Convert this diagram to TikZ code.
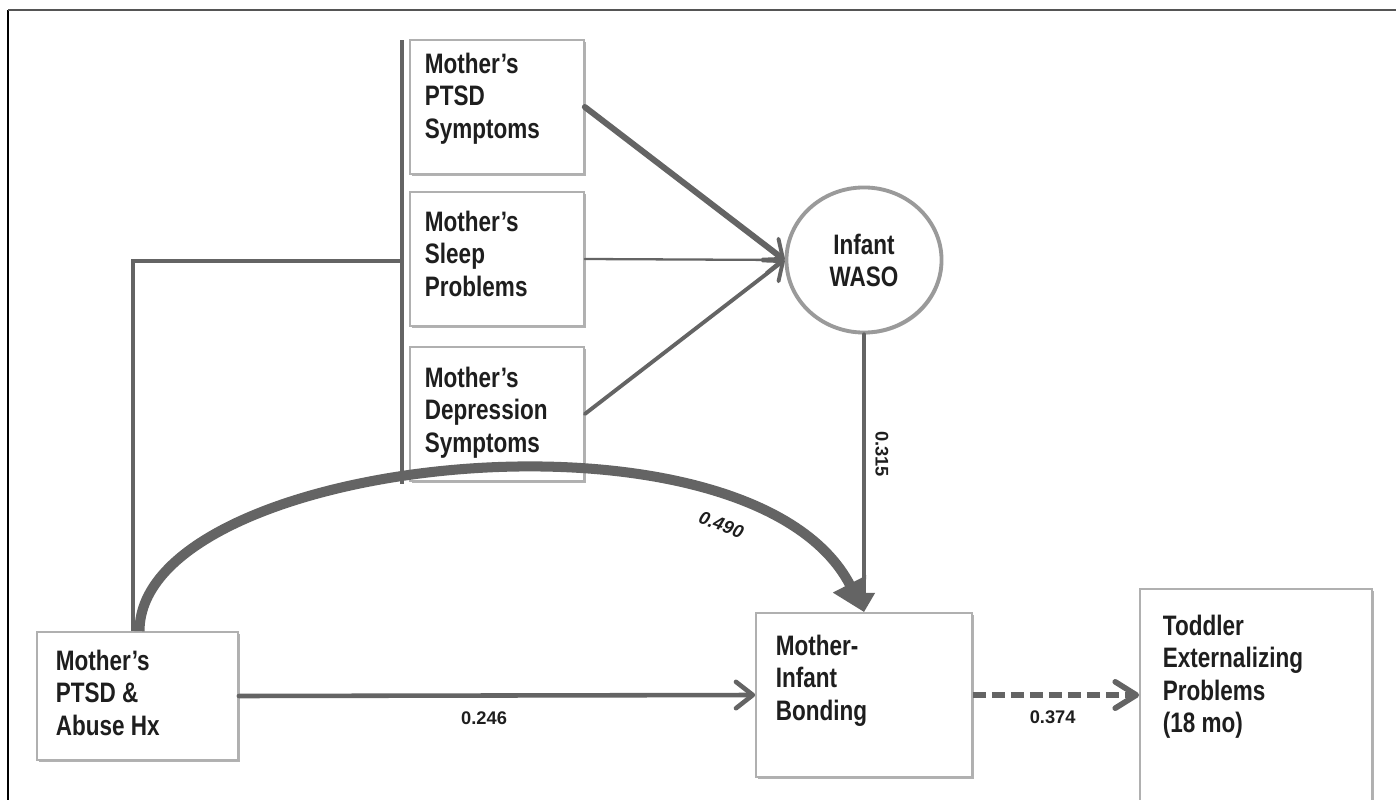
\documentclass[tikz,border=0pt]{standalone}
\usepackage{fontspec}
\usetikzlibrary{arrows.meta,shapes.geometric,shadows}
\newfontfamily\boxfont{Liberation Sans}[FakeStretch=0.8]
\newfontfamily\lblfont{Liberation Sans}
\definecolor{edgec}{HTML}{646464}
\definecolor{bord}{HTML}{B0B0B0}
\definecolor{txt}{HTML}{1E1E1E}
\definecolor{circc}{HTML}{9A9A9A}
\definecolor{framec}{HTML}{555555}
\begin{document}
\begin{tikzpicture}[x=0.01cm,y=-0.01cm,
  box/.style={draw=bord, line width=0.45pt, fill=white, rectangle, text=txt,
    font=\boxfont\bfseries\fontsize{8}{9.2}\selectfont,
    drop shadow={shadow xshift=0.5pt, shadow yshift=-0.6pt, opacity=0.3, fill=black}},
  circnode/.style={ellipse, draw=circc, line width=1.1pt, fill=white, text=txt,
    minimum width=1.55cm, minimum height=1.45cm, inner sep=0pt, align=center,
    font=\boxfont\bfseries\fontsize{8}{9.1}\selectfont,
    drop shadow={shadow xshift=0.4pt, shadow yshift=-0.5pt, opacity=0.25, fill=black}},
  conn/.style={draw=edgec, line cap=round},
  chev/.style={-{Straight Barb[length=4.5pt,width=7.5pt,line width=1.1pt,round]}},
  lbl/.style={font=\lblfont\bfseries\fontsize{5.2}{6}\selectfont, text=txt, inner sep=0pt},
]
\useasboundingbox (0,0) rectangle (1396,800);
\clip (0,0) rectangle (1396,800);
\fill[white] (0,0) rectangle (1396,800);
% frame
\draw[black, line width=0.35pt] (8,10) -- (8,800);
\draw[framec, line width=0.6pt] (8,10) -- (1396,10);

% boxes
\node[box, inner xsep=0.15cm, inner ysep=0.13cm] (ptsd) at (497,107)
  {\parbox[c][1.08cm][t]{1.44cm}{\raggedright Mother’s\\PTSD\\Symptoms}};
\node[box, inner xsep=0.15cm, inner ysep=0.19cm] (sleep) at (497,259)
  {\parbox[c][0.96cm][t]{1.44cm}{\raggedright Mother’s\\Sleep\\Problems}};
\node[box, inner xsep=0.15cm, inner ysep=0.20cm] (dep) at (497,414)
  {\parbox[c][0.94cm][t]{1.44cm}{\raggedright Mother’s\\Depression\\Symptoms}};
\node[box, inner xsep=0.19cm, inner ysep=0.18cm] (abuse) at (137.5,696)
  {\parbox[c][0.92cm][t]{1.63cm}{\raggedright Mother’s\\PTSD \&\\Abuse Hx}};
\node[box, inner xsep=0.20cm, inner ysep=0.22cm] (bond) at (864,695)
  {\parbox[c][1.20cm][t]{1.76cm}{\raggedright Mother-\\Infant\\Bonding}};
\node[box, inner xsep=0.23cm, inner ysep=0.26cm] (todd) at (1256,719.5)
  {\parbox[c][2.09cm][t]{1.86cm}{\raggedright Toddler\\Externalizing\\Problems\\(18 mo)}};
\node[circnode] (waso) at (864,260) {Infant\\WASO};

% bar and junction lines
\coordinate (bartop) at (402,40);
\coordinate (barbot) at (402,484);
\coordinate (barmid) at (402,261);
\coordinate (junc) at (133,261);
\draw[conn, line width=1.3pt, line cap=butt] (bartop) -- (barbot);
\draw[conn, line width=1.1pt, line cap=butt] (abuse.north -| junc) -- (junc) -- (barmid);

% big curve
\draw[edgec, line width=2.85pt, -{Triangle[length=9pt,width=10pt]}]
  ([xshift=0.02cm]abuse.north) .. controls +(0,-175) and +(-114,-222) .. (bond.north)
  node[lbl, pos=0.78, sloped, below=0.09cm, font=\lblfont\bfseries\itshape\fontsize{5.2}{6}\selectfont] {0.490};

% arrows into WASO
\draw[conn, line width=1.7pt, chev] (ptsd.east) -- (waso.west);
\draw[conn, line width=0.65pt, chev] (sleep.east) -- (waso.west);
\draw[conn, line width=1.1pt, chev] (dep.east) -- (waso.west);

% WASO -> bonding
\draw[conn, line width=1.2pt, -{Triangle[length=5.5pt,width=6pt]}] (waso.south) -- (bond.north)
  node[lbl, pos=0.43, xshift=0.18cm, rotate=-90] {0.315};

% abuse -> bonding
\draw[conn, line width=1.3pt, -{Straight Barb[length=4.8pt,width=7.5pt,line width=1.3pt,round]}]
  (abuse.east) -- (bond.west)
  node[lbl, pos=0.475, yshift=-0.23cm] {0.246};

% bonding -> toddler (dashed)
\draw[edgec, line width=1.6pt, dash pattern=on 3.7pt off 1.7pt,
  -{Straight Barb[length=6pt,width=7.5pt,line width=1.6pt,round]}]
  (bond.east) -- (bond.east -| todd.west)
  node[lbl, pos=0.48, yshift=-0.22cm] {0.374};
\end{tikzpicture}
\end{document}
